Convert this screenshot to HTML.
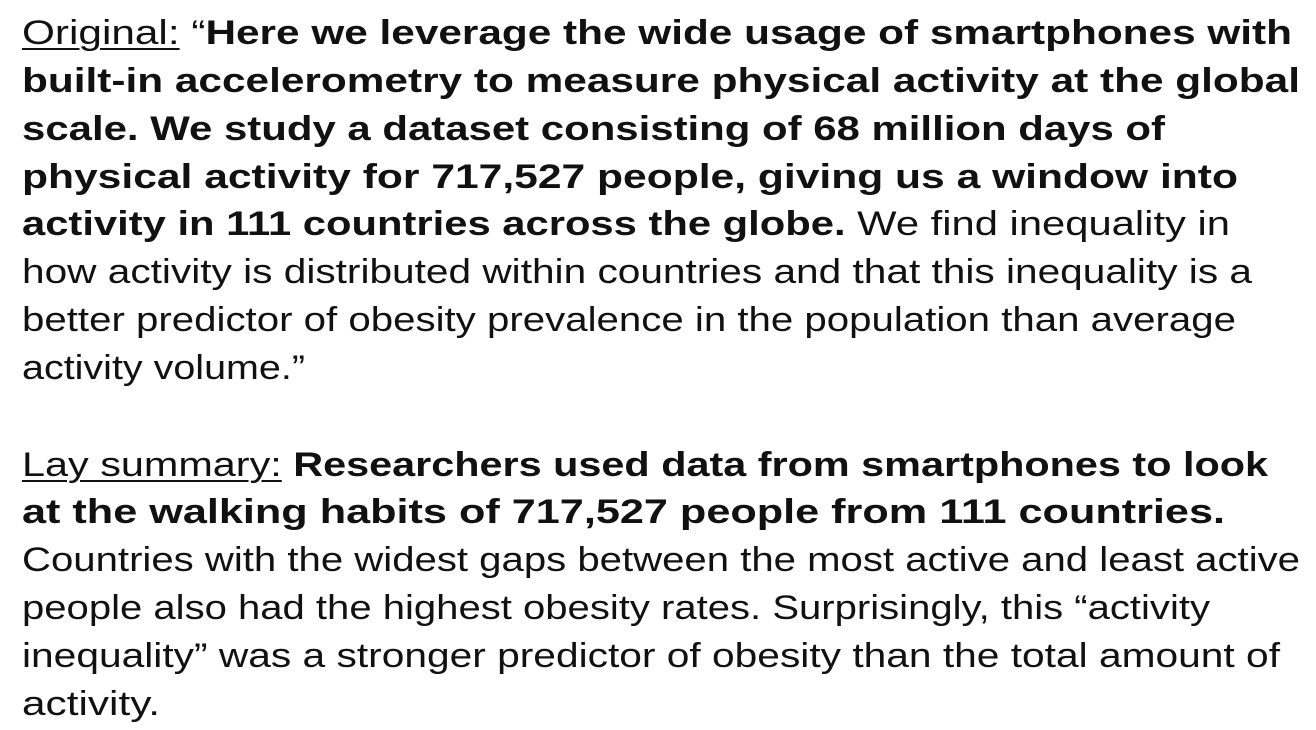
<!DOCTYPE html>
<html><head><meta charset="utf-8">
<style>
html,body{margin:0;padding:0;background:#fff;width:1316px;height:730px;overflow:hidden}
.line{position:absolute;left:22px;white-space:nowrap;font-family:"Liberation Sans","DejaVu Sans",sans-serif;font-size:34px;line-height:40px;color:#111;transform-origin:0 50%}
b{font-weight:bold}
u{text-decoration:underline;text-decoration-thickness:2px;text-underline-offset:4px}
</style></head>
<body>
<div class="line" data-w="1270" style="top:13px"><u>Original:</u> “<b>Here we leverage the wide usage of smartphones with</b></div>
<div class="line" data-w="1278" style="top:61px"><b>built-in accelerometry to measure physical activity at the global</b></div>
<div class="line" data-w="1143" style="top:109px"><b>scale. We study a dataset consisting of 68 million days of</b></div>
<div class="line" data-w="1216" style="top:157px"><b>physical activity for 717,527 people, giving us a window into</b></div>
<div class="line" data-w="1208" style="top:204px"><b>activity in 111 countries across the globe.</b> We find inequality in</div>
<div class="line" data-w="1230" style="top:252px">how activity is distributed within countries and that this inequality is a</div>
<div class="line" data-w="1214" style="top:300px">better predictor of obesity prevalence in the population than average</div>
<div class="line" data-w="283" style="top:348px">activity volume.”</div>
<div class="line" data-w="1246" style="top:445px"><u>Lay summary:</u> <b>Researchers used data from smartphones to look</b></div>
<div class="line" data-w="1203" style="top:492px"><b>at the walking habits of 717,527 people from 111 countries.</b></div>
<div class="line" data-w="1278" style="top:540px">Countries with the widest gaps between the most active and least active</div>
<div class="line" data-w="1188" style="top:588px">people also had the highest obesity rates. Surprisingly, this “activity</div>
<div class="line" data-w="1258" style="top:636px">inequality” was a stronger predictor of obesity than the total amount of</div>
<div class="line" data-w="138" style="top:684px">activity.</div>
<script>
document.querySelectorAll('.line').forEach(function(el){
  var target=parseFloat(el.getAttribute('data-w'));
  var w=el.getBoundingClientRect().width;
  if(w>0){el.style.transform='scaleX('+(target/w)+')';}
});
</script>
</body></html>
